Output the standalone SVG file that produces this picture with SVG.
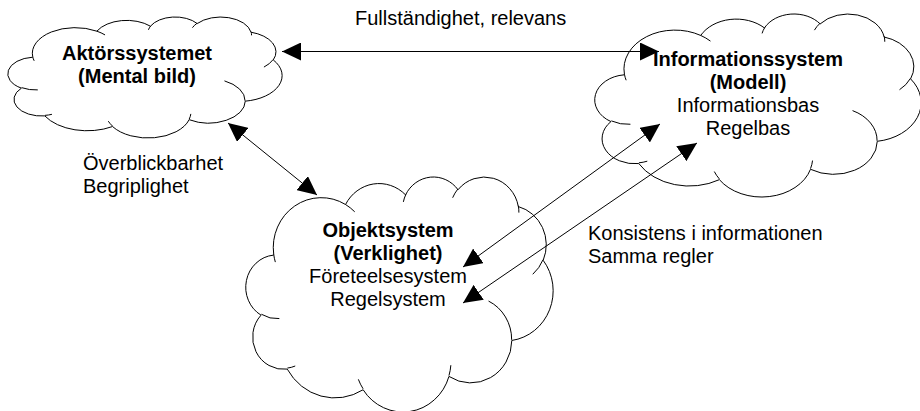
<svg xmlns="http://www.w3.org/2000/svg" width="920" height="411" viewBox="0 0 920 411">
  <style>
    .outline{fill:#fff;stroke:#000;stroke-width:1;vector-effect:non-scaling-stroke}
    .crease{fill:none;stroke:#000;stroke-width:1;vector-effect:non-scaling-stroke}
    text{font-family:"Liberation Sans",Arial,sans-serif;font-size:20px;fill:#000}
    .b{font-weight:bold}
    .c{text-anchor:middle}
    .link{stroke:#000;stroke-width:1;fill:none;marker-start:url(#head);marker-end:url(#head)}
  </style>
  <defs>
    <!-- cloud outline in a 43200-unit frame, stretched per node -->
    <symbol id="cloud" viewBox="0 140 43200 43217" preserveAspectRatio="none" overflow="visible">
      <path class="outline" d="M3900,14370 A6753,9190 0 0 1 14006,5203 A5333,7267 0 0 1 22457,3431 A4365,5945 0 0 1 29835,2481 A4857,6595 0 0 1 38320,5576 A5333,7273 0 0 1 41820,15460 A6775,9220 0 0 1 37406,30202 A5785,7867 0 0 1 28557,36812 A6752,9215 0 0 1 16482,39264 A7720,10543 0 0 1 5806,35467 A4360,5918 0 0 1 2113,25548 A4345,5945 0 0 1 3863,14505 Z"/>
      <path class="crease" d="M4693,26177 A4345,5945 0 0 1 2160,25380 M6928,34899 A4360,5918 0 0 1 5819,35281 M16478,39090 A6752,9215 0 0 1 15810,37349 M28827,34751 A6752,9215 0 0 1 28560,36660 M34129,22954 A5785,7867 0 0 1 37381,30090 M41798,15354 A5333,7273 0 0 1 40351,18029 M38324,5426 A4857,6595 0 0 1 38400,6690 M29078,3952 A4857,6595 0 0 1 29819,2341 M22141,4720 A4365,5945 0 0 1 22500,3331 M14000,5192 A6753,9190 0 0 1 15300,6541 M4127,15789 A6753,9190 0 0 1 3900,14371"/>
    </symbol>
    <marker id="head" viewBox="0 0 19 18" refX="19" refY="9" markerWidth="19" markerHeight="18" markerUnits="userSpaceOnUse" orient="auto-start-reverse">
      <path d="M0,0 L19,9 L0,18 Z" fill="#000"/>
    </marker>
  </defs>

  <g id="aktorssystemet">
    <use href="#cloud" x="8" y="17" width="274" height="121"/>
    <text class="b c" x="137" y="60">Aktörssystemet</text>
    <text class="b c" x="137" y="83">(Mental bild)</text>
  </g>

  <g id="informationssystem">
    <use href="#cloud" x="595" y="14" width="326" height="183"/>
    <text class="b c" x="748" y="66">Informationssystem</text>
    <text class="b c" x="748" y="89">(Modell)</text>
    <text class="c" x="748" y="112">Informationsbas</text>
    <text class="c" x="748" y="135">Regelbas</text>
  </g>

  <g id="objektsystem">
    <use href="#cloud" x="246" y="177" width="307" height="235"/>
    <text class="b c" x="388" y="237">Objektsystem</text>
    <text class="b c" x="388" y="260">(Verklighet)</text>
    <text class="c" x="388" y="283">Företeelsesystem</text>
    <text class="c" x="388" y="306">Regelsystem</text>
  </g>

  <g id="connectors">
    <line class="link" x1="282" y1="51.5" x2="659" y2="51.5"/>
    <line class="link" x1="228" y1="123" x2="317" y2="195"/>
    <line class="link" x1="463" y1="267" x2="660" y2="124"/>
    <line class="link" x1="463" y1="303" x2="697" y2="143"/>
  </g>

  <g id="labels">
    <text x="355" y="25">Fullständighet, relevans</text>
    <text x="83" y="170">Överblickbarhet</text>
    <text x="83" y="193">Begriplighet</text>
    <text x="588" y="240">Konsistens i informationen</text>
    <text x="588" y="263">Samma regler</text>
  </g>
</svg>
